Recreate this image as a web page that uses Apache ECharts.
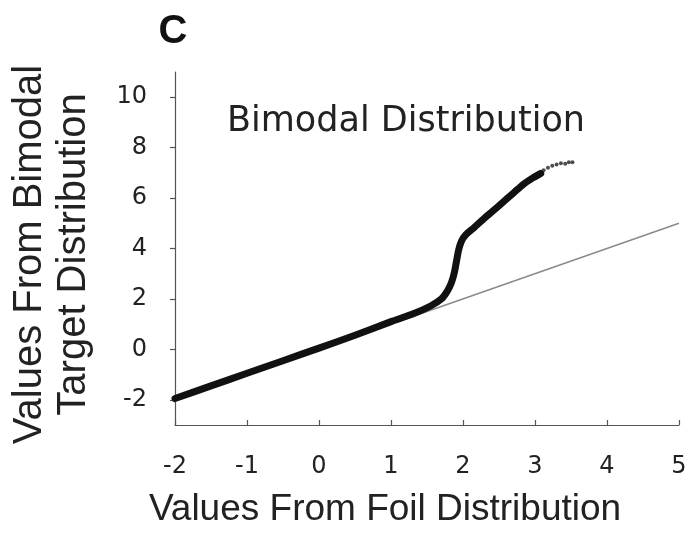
<!DOCTYPE html>
<html>
<head>
<meta charset="utf-8">
<script src="https://cdn.jsdelivr.net/npm/echarts@6/dist/echarts.min.js"></script>
<style>
html,body{margin:0;padding:0;background:#fff;}
#chart{width:692px;height:533px;}
</style>
</head>
<body>
<div id="chart"></div>
<script>
// Q-Q plot data
const qqX = [-2.0, -1.5, -1.0, -0.5, 0.0, 0.5, 1.0, 1.3, 1.55, 1.7, 1.78, 1.84, 1.88, 1.91, 1.94, 1.98, 2.04, 2.15, 2.28, 2.42, 2.56, 2.7, 2.84, 2.97, 3.08];
const qqY = [-1.95, -1.45, -0.95, -0.45, 0.05, 0.56, 1.1, 1.4, 1.72, 2.0, 2.3, 2.65, 3.05, 3.5, 3.95, 4.3, 4.55, 4.82, 5.16, 5.5, 5.85, 6.2, 6.55, 6.8, 6.98];
const tailX = [3.12, 3.18, 3.24, 3.3, 3.36, 3.42, 3.47, 3.52];
const tailY = [7.1, 7.2, 7.28, 7.33, 7.38, 7.36, 7.42, 7.42];
const refX = [-2, 5];
const refY = [-2, 5];
const xTicks = [-2, -1, 0, 1, 2, 3, 4, 5];
const yTicks = [-2, 0, 2, 4, 6, 8, 10];
const panelLabel = 'C';
const chartTitle = 'Bimodal Distribution';
const xName = 'Values From Foil Distribution';
const yName = 'Values From Bimodal\nTarget Distribution';

const FONT = 'Liberation Sans, Arial, sans-serif';
const WIDE = 'DejaVu Sans, sans-serif';
const chart = echarts.init(document.getElementById('chart'), null, {renderer: 'canvas'});
const zip = (a, b) => a.map((v, i) => [v, b[i]]);

chart.setOption({
  backgroundColor: '#ffffff',
  animation: false,
  title: [
    {text: panelLabel, left: 168, top: 7, textAlign: 'center',
     textStyle: {fontFamily: FONT, fontWeight: 'bold', fontSize: 40, color: '#111'}},
    {text: chartTitle, left: 401, top: 99, textAlign: 'center',
     textStyle: {fontFamily: WIDE, fontWeight: 'normal', fontSize: 35, color: '#222'}}
  ],
  grid: {left: 175, right: 13, top: 72, bottom: 108, containLabel: false, outerBoundsMode: 'none'},
  xAxis: {
    type: 'value', min: -2, max: 5, interval: 1,
    name: xName, nameLocation: 'middle', nameGap: 66,
    nameTextStyle: {fontFamily: FONT, fontSize: 37, color: '#222', padding: [0, 84, 0, 0]},
    axisLine: {onZero: false, lineStyle: {color: '#555', width: 1.2}},
    axisTick: {inside: true, length: 5, lineStyle: {color: '#555', width: 1.2}, customValues: xTicks},
    axisLabel: {fontFamily: WIDE, fontSize: 24, color: '#222', margin: 30, customValues: xTicks},
    splitLine: {show: false}
  },
  yAxis: {
    type: 'value', min: -3, max: 11, interval: 1,
    name: yName, nameLocation: 'middle', nameGap: 79, nameRotate: 90,
    nameTextStyle: {fontFamily: FONT, fontSize: 40, color: '#222', lineHeight: 44, padding: [0, 12, 0, 0]},
    axisLine: {onZero: false, lineStyle: {color: '#555', width: 1.2}},
    axisTick: {inside: false, length: 5, lineStyle: {color: '#555', width: 1.2}, customValues: yTicks},
    axisLabel: {fontFamily: WIDE, fontSize: 24, color: '#222', margin: 28, customValues: yTicks},
    splitLine: {show: false}
  },
  series: [
    {type: 'line', data: zip(refX, refY), symbol: 'none',
     lineStyle: {color: '#8a8a8a', width: 1.5}, z: 1},
    {type: 'line', data: zip(qqX, qqY), symbol: 'none', smooth: 0.3,
     lineStyle: {color: '#111', width: 7, cap: 'round', join: 'round'}, z: 3},
    {type: 'scatter', data: zip(tailX, tailY), symbol: 'circle', symbolSize: 4,
     itemStyle: {color: '#222'}, z: 3}
  ]
});
</script>
</body>
</html>
